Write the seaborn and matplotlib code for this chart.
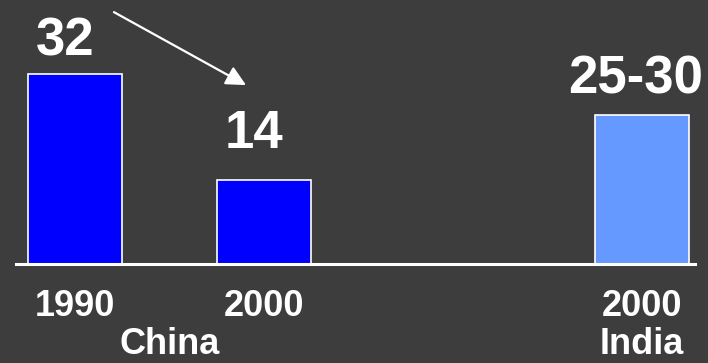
import matplotlib
matplotlib.use("Agg")
import matplotlib.pyplot as plt
import pandas as pd
import seaborn as sns

# Values shown on the chart
bar_keys = ["China 1990", "China 2000", "India 2000"]
countries = ["China", "China", "India"]
years = ["1990", "2000", "2000"]
values = [32, 14, 25]
value_labels = ["32", "14", "25-30"]

# Slot order along the axis: an empty slot separates China from India
slot_order = ["China 1990", "China 2000", "", "India 2000"]
slot_ticks = ["1990", "2000", "", "2000"]

BG = "#3d3d3d"
palette = {"China": "#0000ff", "India": "#6699ff"}

sns.set_theme(style="ticks", rc={
    "figure.facecolor": BG,
    "axes.facecolor": BG,
    "savefig.facecolor": BG,
})
plt.rcParams["font.family"] = ["Liberation Sans", "DejaVu Sans"]

df = pd.DataFrame({"key": bar_keys, "country": countries,
                   "year": years, "value": values})

fig = plt.figure(figsize=(7.08, 3.63), dpi=100)
ax = fig.add_axes([16 / 708, 99.5 / 363, 679 / 708, 263.5 / 363])

sns.barplot(data=df, x="key", y="value", hue="country", order=slot_order,
            palette=palette, saturation=1, dodge=False, width=0.5,
            legend=False, edgecolor="white", linewidth=1.2, ax=ax)

ax.set_xlim(-0.312, 3.28)
ax.set_ylim(0, 44.4)
ax.set_xlabel("")
ax.set_ylabel("")
ax.set_yticks([])
ax.set_xticks(range(len(slot_order)), slot_ticks)
ax.tick_params(axis="x", length=0, pad=18.5, labelsize=26,
               labelcolor="white")
for lbl in ax.get_xticklabels():
    lbl.set_fontweight("bold")

for side in ("top", "left", "right"):
    ax.spines[side].set_visible(False)
ax.spines["bottom"].set_color("white")
ax.spines["bottom"].set_linewidth(2.2)

# Value labels above each bar
label_dx = [-10, -10, -7]
label_dy = [18.5, 32, 22]
for key, v, txt, dx, dy in zip(bar_keys, values, value_labels, label_dx, label_dy):
    xpos = slot_order.index(key)
    ax.annotate(txt, xy=(xpos, v), xytext=(dx, dy), textcoords="offset pixels",
                ha="center", va="baseline", fontsize=38, fontweight="bold",
                color="white", annotation_clip=False)

# Country names under the year labels, kept inside the bottom edge
group_x = {}
for key, c in zip(bar_keys, countries):
    group_x.setdefault(c, []).append(slot_order.index(key))
for c, xs in group_x.items():
    ax.annotate(c, xy=(sum(xs) / len(xs), 1 / 363),
                xycoords=("data", "figure fraction"),
                ha="center", va="bottom", fontsize=26, fontweight="bold",
                color="white", annotation_clip=False)

# Arrow pointing from the 1990 level down to the 2000 level
ax.annotate("", xy=(0.905, 30.06), xytext=(0.206, 42.36),
            arrowprops=dict(arrowstyle="-|>", color="white", lw=1.6,
                            mutation_scale=30, shrinkA=0, shrinkB=0),
            annotation_clip=False)

fig.savefig("out.png", dpi=100, facecolor=BG)
